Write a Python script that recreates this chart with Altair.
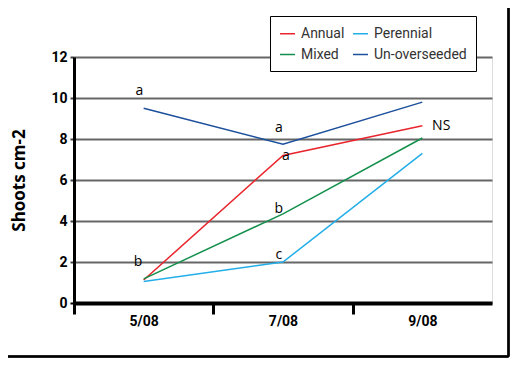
import altair as alt
import pandas as pd

dates = ["5/08", "7/08", "9/08"]
series = ["Annual", "Mixed", "Perennial", "Un-overseeded"]
colors = ["#e8252d", "#13904c", "#22aee8", "#1c4f9c"]
annual = [1.12, 7.2, 8.65]
mixed = [1.18, 4.35, 8.05]
perennial = [1.05, 2.0, 7.3]
unover = [9.5, 7.75, 9.8]

# letter annotations: text, x position in date units, y value
ann_text = ["a", "a", "a", "b", "c", "b", "NS"]
ann_x = [0.47, 1.47, 1.52, 1.47, 1.47, 0.46, 2.57]
ann_y = [10.35, 8.55, 7.15, 4.6, 2.35, 2.0, 8.65]
ann_align = ["center", "center", "center", "center", "center", "center", "left"]

rows = []
for name, vals in zip(series, [annual, mixed, perennial, unover]):
    for i, (d, v) in enumerate(zip(dates, vals)):
        rows.append({"series": name, "date": d, "pos": i + 0.5, "value": v})
df = pd.DataFrame(rows)
ann = pd.DataFrame({"t": ann_text, "x": ann_x, "y": ann_y, "al": ann_align})

FONT = "Open Sans"
FONT2 = "Roboto"
W, H = 418, 246
PL, PT, PR, PB = 66, 49, 18, 55

label_expr = "datum.value==0.5?'%s':datum.value==1.5?'%s':datum.value==2.5?'%s':''" % tuple(dates)

xscale = alt.Scale(domain=[0, 3], nice=False, zero=False)
yscale = alt.Scale(domain=[0, 12], nice=False)

lines = alt.Chart(df).mark_line(strokeWidth=1.5).encode(
    x=alt.X("pos:Q", scale=xscale, title=None,
            axis=alt.Axis(values=[0, 0.5, 1, 1.5, 2, 2.5], labelExpr=label_expr,
                          grid=False, domainColor="black", domainWidth=4,
                          tickColor="black", tickWidth=3, tickSize=11,
                          tickOpacity={"condition": {"test": "datum.value % 1 == 0", "value": 1}, "value": 0},
                          labelFont=FONT2, labelFontSize=14, labelFontWeight="bold",
                          labelColor="black", labelPadding=0)),
    y=alt.Y("value:Q", scale=yscale, title="Shoots cm-2",
            axis=alt.Axis(values=list(range(0, 13, 2)), grid=True, gridColor="#666666",
                          gridWidth=2, domainColor="black", domainWidth=3,
                          tickColor={"condition": {"test": "datum.value == 0", "value": "black"}, "value": "#444444"},
                          tickWidth=2, tickSize=4,
                          labelFont=FONT2, labelFontSize=14, labelFontWeight="bold",
                          labelColor="black", labelPadding=3,
                          titleFont=FONT, titleFontSize=17, titleFontWeight="bold",
                          titleColor="black", titlePadding=22)),
    color=alt.Color("series:N", scale=alt.Scale(domain=series, range=colors),
                    legend=alt.Legend(title=None, orient="none", legendX=196, legendY=-41,
                                      columns=2, columnPadding=5, rowPadding=5,
                                      gridAlign="each",
                                      symbolType="stroke", symbolStrokeWidth=1.5,
                                      symbolSize=225, labelFont=FONT2, labelFontSize=14,
                                      labelColor="#333333", padding=9,
                                      strokeColor="black", fillColor="white",
                                      labelOffset=5)),
    detail="series:N",
)

texts_c = alt.Chart(ann).transform_filter("datum.al == 'center'").mark_text(
    font=FONT, fontSize=14, color="black", baseline="middle", align="center").encode(
    x=alt.X("x:Q", scale=xscale), y=alt.Y("y:Q", scale=yscale), text="t:N")
texts_l = alt.Chart(ann).transform_filter("datum.al == 'left'").mark_text(
    font=FONT, fontSize=14, color="black", baseline="middle", align="left").encode(
    x=alt.X("x:Q", scale=xscale), y=alt.Y("y:Q", scale=yscale), text="t:N")

RX = W + PR - 1.5
BY = H + PB - 1.5
frame_right = alt.Chart(ann).mark_rule(color="black", strokeWidth=1.5).encode(
    x=alt.value(RX), y=alt.value(-PT), y2=alt.value(BY))
frame_bottom = alt.Chart(ann).mark_rule(color="black", strokeWidth=1.5).encode(
    x=alt.value(-PL), x2=alt.value(RX), y=alt.value(BY))

chart = alt.layer(lines, texts_c, texts_l, frame_right, frame_bottom).properties(
    width=W, height=H,
    autosize=alt.AutoSizeParams(type="none"),
    padding={"left": PL, "top": PT, "right": PR, "bottom": PB},
).configure_view(stroke=None).configure(background="white")

chart.save("out.html", embed_options={"renderer": "svg", "actions": False})
